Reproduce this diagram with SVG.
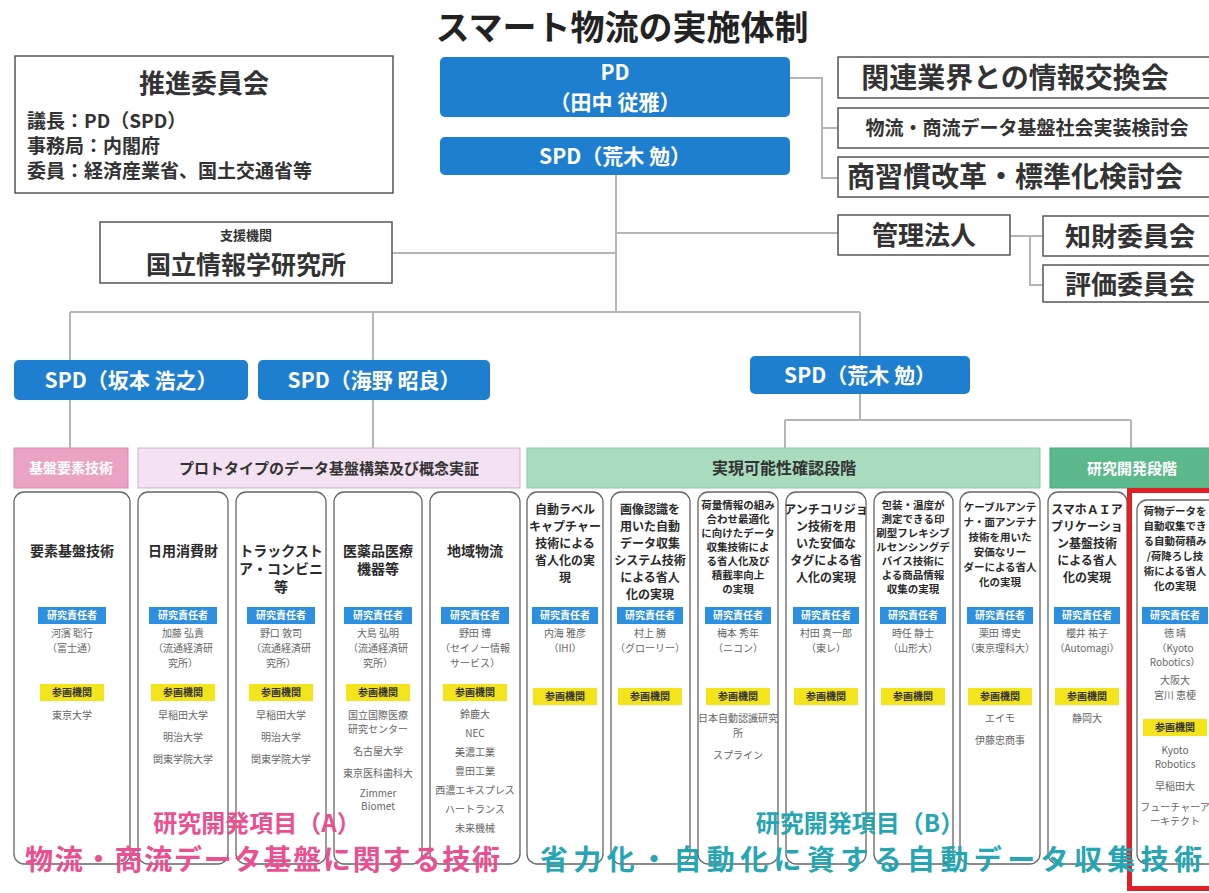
<svg xmlns="http://www.w3.org/2000/svg" width="1209" height="893" viewBox="0 0 1209 893">
<defs>
<style>
text{font-family:"Noto Sans CJK JP","Noto Sans CJK SC",sans-serif;font-weight:bold}
.box{fill:#fff;stroke:#555;stroke-width:1.5}
.blue{fill:#1e7fd0}
.wt{fill:#fff}
.dk{fill:#333}
.col{fill:#fff;stroke:#666;stroke-width:1.3}
.ct{font-size:14px;fill:#2a2a2a;text-anchor:middle}
.cm{font-size:12px;fill:#2a2a2a;text-anchor:middle}
.cs{font-size:10.5px;fill:#2a2a2a;text-anchor:middle}
.tb{fill:#2d8fe0}
.ty{fill:#f4e41c}
.tt{font-size:10px;text-anchor:middle}
.nm{font-size:10px;fill:#666;text-anchor:middle;font-weight:normal}
.ln{stroke:#b5b5b5;stroke-width:2;fill:none}
</style>
</defs>
<rect width="1209" height="893" fill="#fff"/>
<text x="622" y="40" font-size="34" text-anchor="middle" fill="#222">スマート物流の実施体制</text>

<g id="connectors">
<path class="ln" d="M616 175 V312 M70 312 H860 M70 312 V360 M373 312 V360 M860 312 V356 M392 253 H616 M616 233 H838"/>
<path class="ln" d="M790 78 H822 V178 H838 M822 128 H838"/>
<path class="ln" d="M1010 236 H1043 M1030 236 V285 H1043"/>
<path class="ln" d="M70 400 V448 M373 400 V448 M860 394 V420 M785 420 H1131 M785 420 V448 M1131 420 V448"/>
</g>

<g id="n-suishin">
<rect class="box" x="15" y="56" width="378" height="137"/>
<text x="204" y="93" font-size="26" text-anchor="middle" fill="#333">推進委員会</text>
<text x="27" y="128" font-size="19" fill="#333">議長：PD（SPD）</text>
<text x="27" y="153" font-size="19" fill="#333">事務局：内閣府</text>
<text x="27" y="178" font-size="19" fill="#333">委員：経済産業省、国土交通省等</text>
</g>

<g id="n-pd">
<rect class="blue" x="440" y="57" width="350" height="60" rx="5"/>
<text x="615" y="80" font-size="21" text-anchor="middle" class="wt">PD</text>
<text x="615" y="110" font-size="21" text-anchor="middle" class="wt">（田中 従雅）</text>
</g>
<g id="n-spd0">
<rect class="blue" x="440" y="137" width="350" height="38" rx="5"/>
<text x="615" y="164" font-size="21" text-anchor="middle" class="wt">SPD（荒木 勉）</text>
</g>

<g id="n-kanren">
<rect class="box" x="838" y="57" width="380" height="41"/>
<text x="1015" y="88" font-size="28" text-anchor="middle" fill="#333">関連業界との情報交換会</text>
</g>
<g id="n-jissou">
<rect class="box" x="838" y="108" width="380" height="40"/>
<text x="1027" y="135" font-size="19" text-anchor="middle" fill="#333">物流・商流データ基盤社会実装検討会</text>
</g>
<g id="n-shoukanshu">
<rect class="box" x="838" y="157" width="380" height="40"/>
<text x="1015" y="187" font-size="28" text-anchor="middle" fill="#333">商習慣改革・標準化検討会</text>
</g>
<g id="n-kanri">
<rect class="box" x="838" y="215" width="172" height="40"/>
<text x="924" y="245" font-size="26" text-anchor="middle" fill="#333">管理法人</text>
</g>
<g id="n-chizai">
<rect class="box" x="1043" y="216" width="175" height="40"/>
<text x="1130" y="246" font-size="26" text-anchor="middle" fill="#333">知財委員会</text>
</g>
<g id="n-hyouka">
<rect class="box" x="1043" y="265" width="175" height="37"/>
<text x="1130" y="294" font-size="26" text-anchor="middle" fill="#333">評価委員会</text>
</g>
<g id="n-nii">
<rect class="box" x="100" y="222" width="292" height="61"/>
<text x="246" y="240" font-size="13" text-anchor="middle" fill="#333">支援機関</text>
<text x="246" y="274" font-size="25" text-anchor="middle" fill="#333">国立情報学研究所</text>
</g>

<g id="n-spd1">
<rect class="blue" x="14" y="360" width="234" height="40" rx="5"/>
<text x="131" y="388" font-size="21" text-anchor="middle" class="wt">SPD（坂本 浩之）</text>
</g>
<g id="n-spd2">
<rect class="blue" x="258" y="360" width="232" height="40" rx="5"/>
<text x="374" y="388" font-size="21" text-anchor="middle" class="wt">SPD（海野 昭良）</text>
</g>
<g id="n-spd3">
<rect class="blue" x="750" y="356" width="220" height="38" rx="5"/>
<text x="860" y="383" font-size="21" text-anchor="middle" class="wt">SPD（荒木 勉）</text>
</g>

<g id="h-kiban">
<rect x="14" y="448" width="114" height="40" fill="#eba3c4" stroke="#d98bb0"/>
<text x="71" y="473" font-size="14" text-anchor="middle" class="wt">基盤要素技術</text>
</g>
<g id="h-proto">
<rect x="138" y="448" width="382" height="40" fill="#f4e2f2" stroke="#c9b3c9"/>
<text x="329" y="474" font-size="15" text-anchor="middle" fill="#333">プロトタイプのデータ基盤構築及び概念実証</text>
</g>
<g id="h-jitsugen">
<rect x="527" y="448" width="513" height="40" fill="#a9dcbf" stroke="#8fc4a6"/>
<text x="784" y="474" font-size="16" text-anchor="middle" fill="#333">実現可能性確認段階</text>
</g>
<g id="h-kenkyu">
<rect x="1050" y="448" width="165" height="40" fill="#5cb98c" stroke="#4aa77a"/>
<text x="1132" y="474" font-size="15" text-anchor="middle" class="wt">研究開発段階</text>
</g>

<g id="c1">
<rect class="col" x="14" y="492" width="116" height="372" rx="10"/>
<text class="ct" x="72" y="556">要素基盤技術</text>
<rect class="tb" x="38" y="607" width="68" height="17"/><text class="tt wt" x="72" y="619">研究責任者</text>
<text class="nm" x="72" y="637">河濱 聡行</text><text class="nm" x="72" y="652">（富士通）</text>
<rect class="ty" x="40" y="684" width="64" height="17"/><text class="tt dk" x="72" y="696">参画機関</text>
<text class="nm" x="72" y="719">東京大学</text>
</g>
<g id="c2">
<rect class="col" x="138" y="492" width="90" height="372" rx="10"/>
<text class="ct" x="183" y="556">日用消費財</text>
<rect class="tb" x="149" y="607" width="68" height="17"/><text class="tt wt" x="183" y="619">研究責任者</text>
<text class="nm" x="183" y="637">加藤 弘貴</text><text class="nm" x="183" y="652">（流通経済研</text><text class="nm" x="183" y="667">究所）</text>
<rect class="ty" x="151" y="684" width="64" height="17"/><text class="tt dk" x="183" y="696">参画機関</text>
<text class="nm" x="183" y="719">早稲田大学</text><text class="nm" x="183" y="741">明治大学</text><text class="nm" x="183" y="763">関東学院大学</text>
</g>
<g id="c3">
<rect class="col" x="236" y="492" width="90" height="372" rx="10"/>
<text class="ct" x="281" y="556">トラックスト</text><text class="ct" x="281" y="574">ア・コンビニ</text><text class="ct" x="281" y="592">等</text>
<rect class="tb" x="247" y="607" width="68" height="17"/><text class="tt wt" x="281" y="619">研究責任者</text>
<text class="nm" x="281" y="637">野口 敦司</text><text class="nm" x="281" y="652">（流通経済研</text><text class="nm" x="281" y="667">究所）</text>
<rect class="ty" x="249" y="684" width="64" height="17"/><text class="tt dk" x="281" y="696">参画機関</text>
<text class="nm" x="281" y="719">早稲田大学</text><text class="nm" x="281" y="741">明治大学</text><text class="nm" x="281" y="763">関東学院大学</text>
</g>
<g id="c4">
<rect class="col" x="334" y="492" width="88" height="372" rx="10"/>
<text class="ct" x="378" y="556">医薬品医療</text><text class="ct" x="378" y="574">機器等</text>
<rect class="tb" x="344" y="607" width="68" height="17"/><text class="tt wt" x="378" y="619">研究責任者</text>
<text class="nm" x="378" y="637">大島 弘明</text><text class="nm" x="378" y="652">（流通経済研</text><text class="nm" x="378" y="667">究所）</text>
<rect class="ty" x="346" y="684" width="64" height="17"/><text class="tt dk" x="378" y="696">参画機関</text>
<text class="nm" x="378" y="719">国立国際医療</text><text class="nm" x="378" y="733">研究センター</text><text class="nm" x="378" y="755">名古屋大学</text><text class="nm" x="378" y="777">東京医科歯科大</text><text class="nm" x="378" y="797">Zimmer</text><text class="nm" x="378" y="810">Biomet</text>
</g>
<g id="c5">
<rect class="col" x="430" y="492" width="90" height="372" rx="10"/>
<text class="ct" x="475" y="556">地域物流</text>
<rect class="tb" x="441" y="607" width="68" height="17"/><text class="tt wt" x="475" y="619">研究責任者</text>
<text class="nm" x="475" y="637">野田 博</text><text class="nm" x="475" y="652">（セイノー情報</text><text class="nm" x="475" y="667">サービス）</text>
<rect class="ty" x="443" y="684" width="64" height="17"/><text class="tt dk" x="475" y="696">参画機関</text>
<text class="nm" x="475" y="718">鈴鹿大</text><text class="nm" x="475" y="737">NEC</text><text class="nm" x="475" y="756">美濃工業</text><text class="nm" x="475" y="775">豊田工業</text><text class="nm" x="475" y="794">西濃エキスプレス</text><text class="nm" x="475" y="813">ハートランス</text><text class="nm" x="475" y="832">未来機械</text>
</g>

<g id="c6">
<rect class="col" x="527" y="492" width="76" height="372" rx="10"/>
<text class="cm" x="565" y="514">自動ラベル</text><text class="cm" x="565" y="531">キャプチャー</text><text class="cm" x="565" y="548">技術による</text><text class="cm" x="565" y="565">省人化の実</text><text class="cm" x="565" y="582">現</text>
<rect class="tb" x="532" y="607" width="66" height="17"/><text class="tt wt" x="565" y="619">研究責任者</text>
<text class="nm" x="565" y="637">内海 雅彦</text><text class="nm" x="565" y="652">（IHI）</text>
<rect class="ty" x="533" y="688" width="64" height="17"/><text class="tt dk" x="565" y="700">参画機関</text>
</g>
<g id="c7">
<rect class="col" x="611" y="492" width="79" height="372" rx="10"/>
<text class="cm" x="650" y="514">画像認識を</text><text class="cm" x="650" y="531">用いた自動</text><text class="cm" x="650" y="548">データ収集</text><text class="cm" x="650" y="565">システム技術</text><text class="cm" x="650" y="582">による省人</text><text class="cm" x="650" y="599">化の実現</text>
<rect class="tb" x="617" y="607" width="66" height="17"/><text class="tt wt" x="650" y="619">研究責任者</text>
<text class="nm" x="650" y="637">村上 勝</text><text class="nm" x="650" y="652">（グローリー）</text>
<rect class="ty" x="618" y="688" width="64" height="17"/><text class="tt dk" x="650" y="700">参画機関</text>
</g>
<g id="c8">
<rect class="col" x="698" y="492" width="80" height="372" rx="10"/>
<text class="cs" x="738" y="509">荷量情報の組み</text><text class="cs" x="738" y="523">合わせ最適化</text><text class="cs" x="738" y="537">に向けたデータ</text><text class="cs" x="738" y="551">収集技術によ</text><text class="cs" x="738" y="565">る省人化及び</text><text class="cs" x="738" y="579">積載率向上</text><text class="cs" x="738" y="593">の実現</text>
<rect class="tb" x="705" y="607" width="66" height="17"/><text class="tt wt" x="738" y="619">研究責任者</text>
<text class="nm" x="738" y="637">梅本 秀年</text><text class="nm" x="738" y="652">（ニコン）</text>
<rect class="ty" x="706" y="688" width="64" height="17"/><text class="tt dk" x="738" y="700">参画機関</text>
<text class="nm" x="738" y="722">日本自動認識研究</text><text class="nm" x="738" y="737">所</text><text class="nm" x="738" y="759">スプライン</text>
</g>
<g id="c9">
<rect class="col" x="786" y="492" width="80" height="372" rx="10"/>
<text class="cm" x="826" y="514">アンチコリジョ</text><text class="cm" x="826" y="531">ン技術を用</text><text class="cm" x="826" y="548">いた安価な</text><text class="cm" x="826" y="565">タグによる省</text><text class="cm" x="826" y="582">人化の実現</text>
<rect class="tb" x="793" y="607" width="66" height="17"/><text class="tt wt" x="826" y="619">研究責任者</text>
<text class="nm" x="826" y="637">村田 真一郎</text><text class="nm" x="826" y="652">（東レ）</text>
<rect class="ty" x="794" y="688" width="64" height="17"/><text class="tt dk" x="826" y="700">参画機関</text>
</g>
<g id="c10">
<rect class="col" x="874" y="492" width="79" height="372" rx="10"/>
<text class="cs" x="913" y="509">包装・温度が</text><text class="cs" x="913" y="523">測定できる印</text><text class="cs" x="913" y="537">刷型フレキシブ</text><text class="cs" x="913" y="551">ルセンシングデ</text><text class="cs" x="913" y="565">バイス技術に</text><text class="cs" x="913" y="579">よる商品情報</text><text class="cs" x="913" y="593">収集の実現</text>
<rect class="tb" x="880" y="607" width="66" height="17"/><text class="tt wt" x="913" y="619">研究責任者</text>
<text class="nm" x="913" y="637">時任 静士</text><text class="nm" x="913" y="652">（山形大）</text>
<rect class="ty" x="881" y="688" width="64" height="17"/><text class="tt dk" x="913" y="700">参画機関</text>
</g>
<g id="c11">
<rect class="col" x="960" y="492" width="80" height="372" rx="10"/>
<text class="cs" x="1000" y="511">ケーブルアンテ</text><text class="cs" x="1000" y="526">ナ・面アンテナ</text><text class="cs" x="1000" y="541">技術を用いた</text><text class="cs" x="1000" y="556">安価なリー</text><text class="cs" x="1000" y="571">ダーによる省人</text><text class="cs" x="1000" y="586">化の実現</text>
<rect class="tb" x="967" y="607" width="66" height="17"/><text class="tt wt" x="1000" y="619">研究責任者</text>
<text class="nm" x="1000" y="637">栗田 博史</text><text class="nm" x="1000" y="652">（東京理科大）</text>
<rect class="ty" x="968" y="688" width="64" height="17"/><text class="tt dk" x="1000" y="700">参画機関</text>
<text class="nm" x="1000" y="722">エイモ</text><text class="nm" x="1000" y="744">伊藤忠商事</text>
</g>
<g id="c12">
<rect class="col" x="1048" y="492" width="79" height="372" rx="10"/>
<text class="cm" x="1087" y="514">スマホＡＩア</text><text class="cm" x="1087" y="531">プリケーショ</text><text class="cm" x="1087" y="548">ン基盤技術</text><text class="cm" x="1087" y="565">による省人</text><text class="cm" x="1087" y="582">化の実現</text>
<rect class="tb" x="1054" y="607" width="66" height="17"/><text class="tt wt" x="1087" y="619">研究責任者</text>
<text class="nm" x="1087" y="637">櫻井 祐子</text><text class="nm" x="1087" y="652">（Automagi）</text>
<rect class="ty" x="1055" y="688" width="64" height="17"/><text class="tt dk" x="1087" y="700">参画機関</text>
<text class="nm" x="1087" y="722">静岡大</text>
</g>
<g id="c13">
<rect class="col" x="1137" y="500" width="90" height="364" rx="10"/>
<text class="cs" x="1175" y="515">荷物データを</text><text class="cs" x="1175" y="530">自動収集でき</text><text class="cs" x="1175" y="545">る自動荷積み</text><text class="cs" x="1175" y="560">/荷降ろし技</text><text class="cs" x="1175" y="575">術による省人</text><text class="cs" x="1175" y="590">化の実現</text>
<rect class="tb" x="1142" y="607" width="66" height="17"/><text class="tt wt" x="1175" y="619">研究責任者</text>
<text class="nm" x="1175" y="637">徳 晴</text><text class="nm" x="1175" y="652">（Kyoto</text><text class="nm" x="1175" y="666">Robotics）</text><text class="nm" x="1175" y="684" font-size="8">大阪大</text><text class="nm" x="1175" y="699">宮川 恵梗</text>
<rect class="ty" x="1143" y="719" width="64" height="17"/><text class="tt dk" x="1175" y="731">参画機関</text>
<text class="nm" x="1175" y="754">Kyoto</text><text class="nm" x="1175" y="768">Robotics</text><text class="nm" x="1175" y="790">早稲田大</text><text class="nm" x="1175" y="811">フューチャーア</text><text class="nm" x="1175" y="825">ーキテクト</text>
</g>
<rect x="1129.5" y="490.5" width="85" height="398" fill="none" stroke="#e11f26" stroke-width="5"/>

<g id="labels">
<text x="257" y="832" font-size="24" text-anchor="middle" fill="#ea4f8f">研究開発項目（A）</text>
<text x="25" y="870" font-size="28" fill="#ea4f8f" textLength="475" lengthAdjust="spacing">物流・商流データ基盤に関する技術</text>
<text x="860" y="832" font-size="24" text-anchor="middle" fill="#26a5b2">研究開発項目（B）</text>
<text x="540" y="870" font-size="28" fill="#26a5b2" textLength="662" lengthAdjust="spacing">省力化・自動化に資する自動データ収集技術</text>
</g>
</svg>
